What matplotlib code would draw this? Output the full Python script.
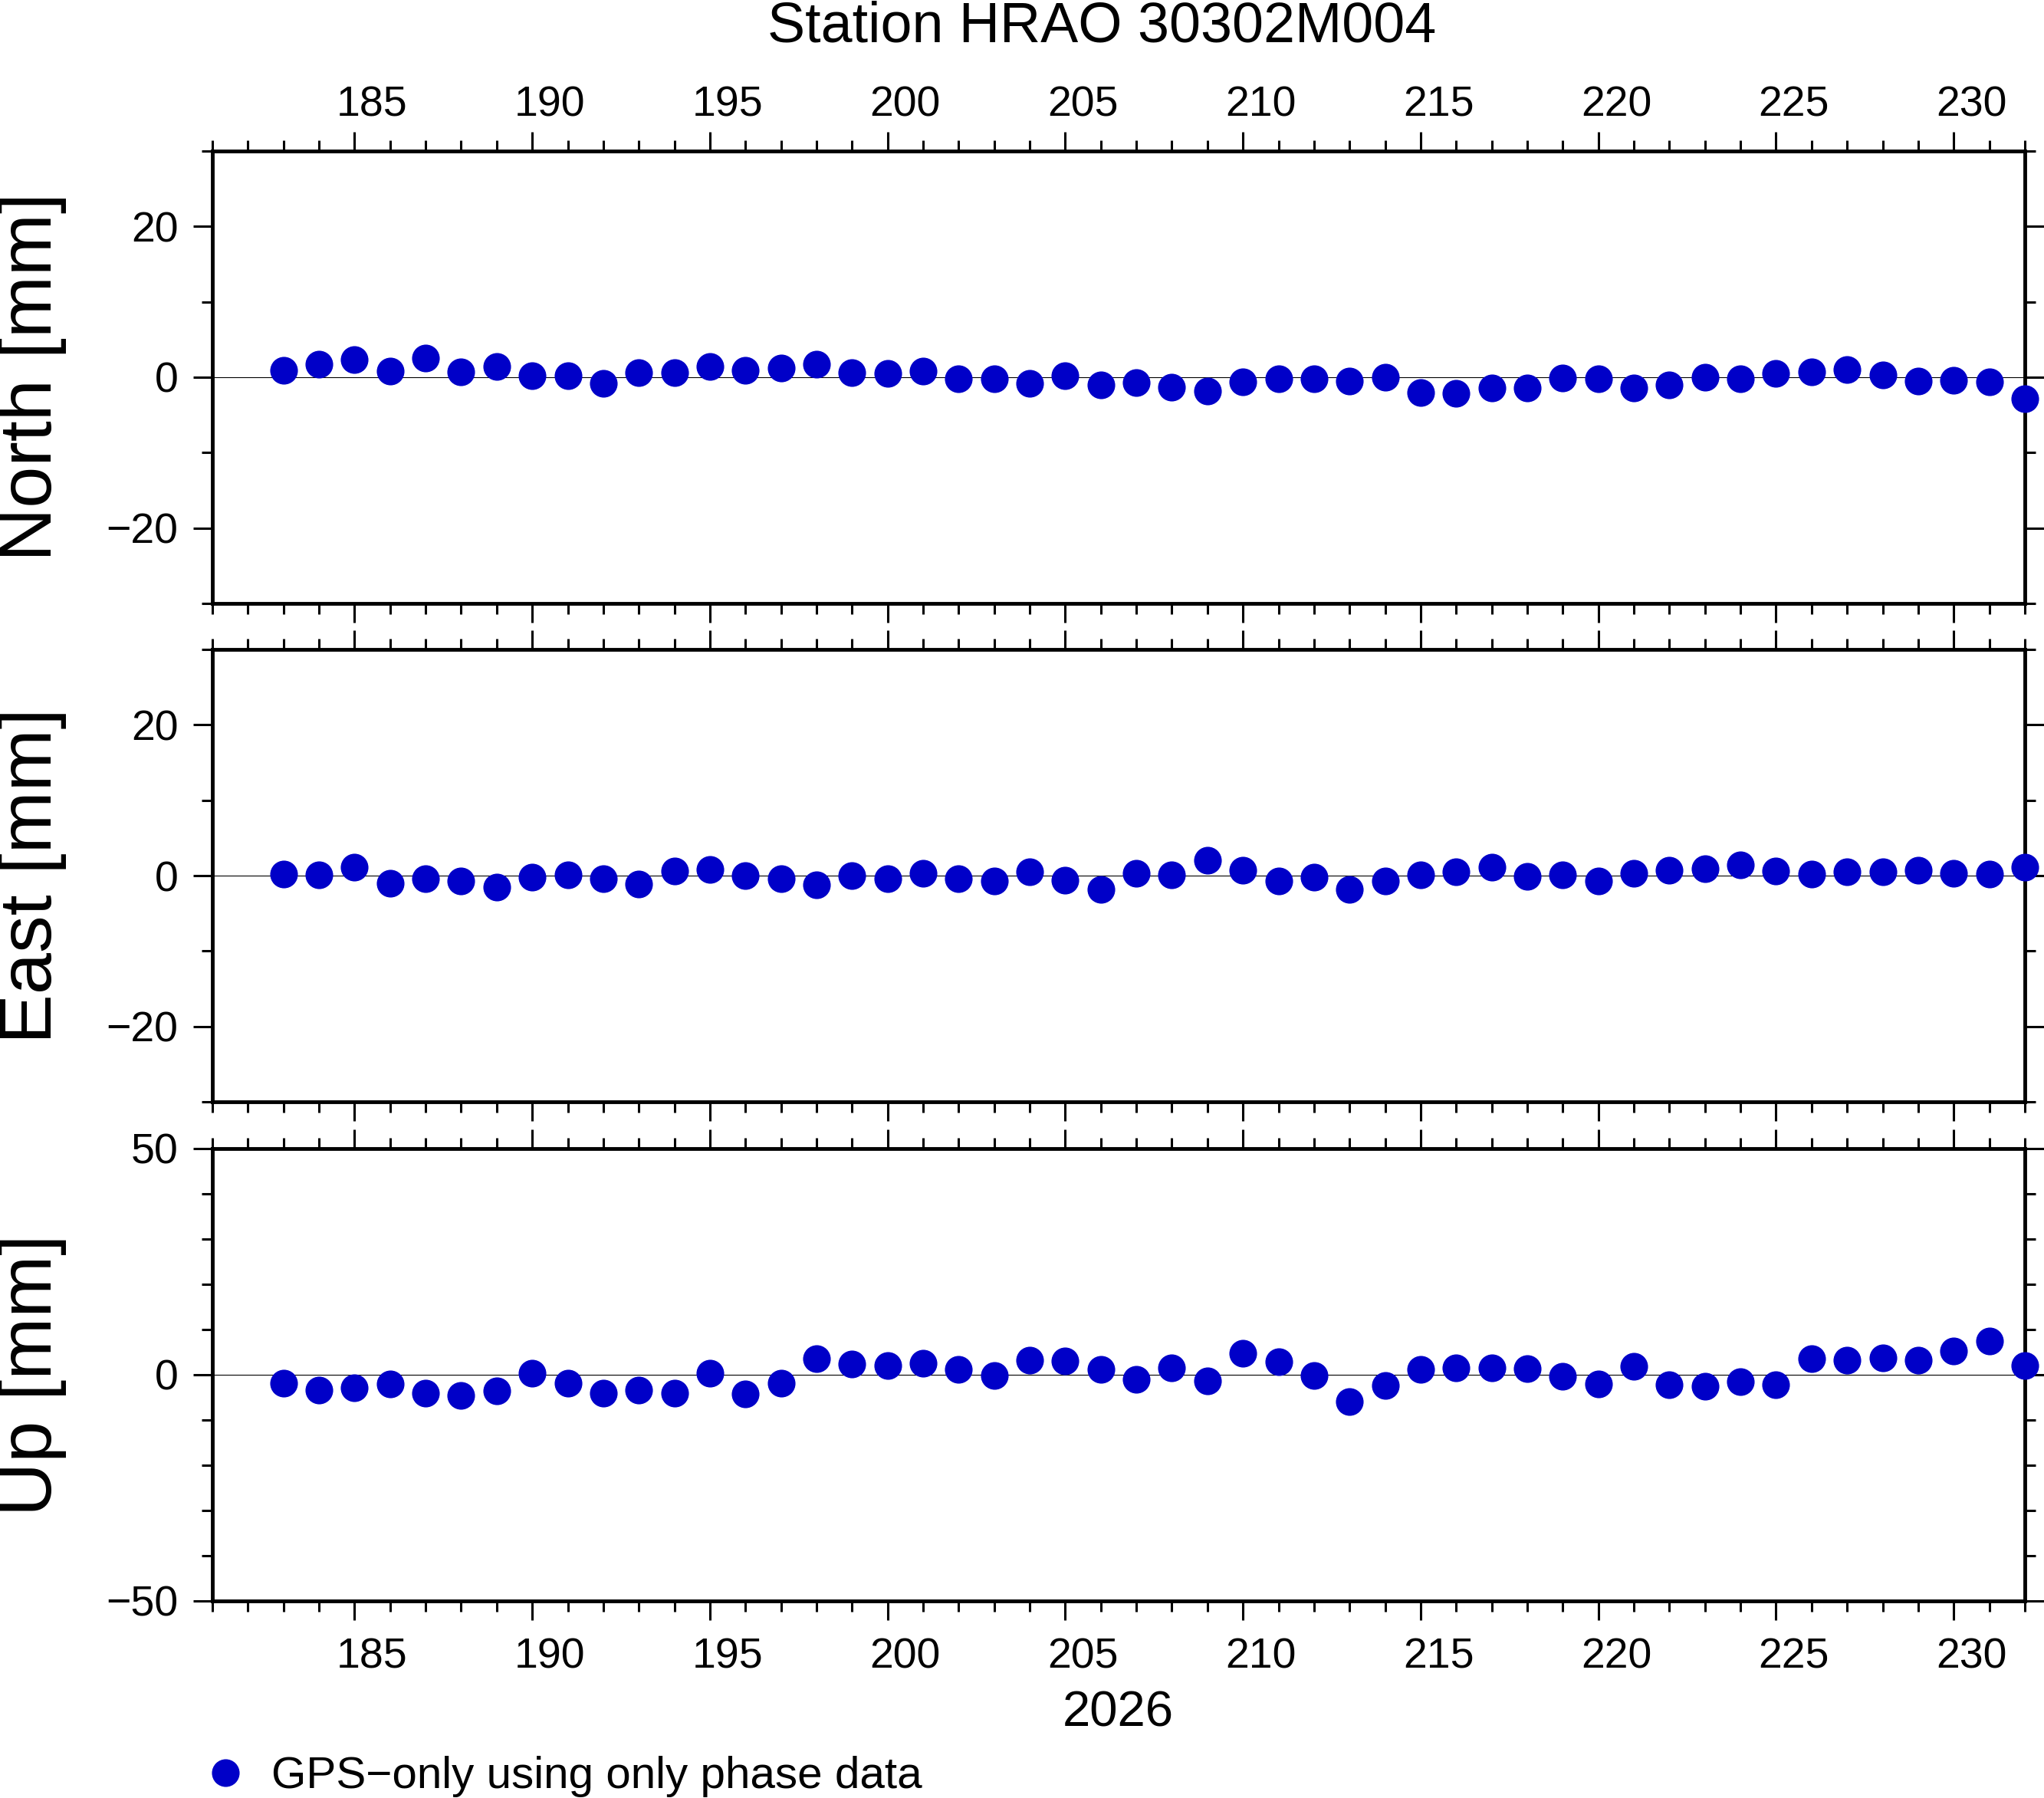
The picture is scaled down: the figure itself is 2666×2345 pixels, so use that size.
import numpy as np
import matplotlib.pyplot as plt
from matplotlib.ticker import MultipleLocator
from matplotlib.transforms import ScaledTranslation

plt.rcParams['font.family'] = ['Liberation Sans', 'DejaVu Sans']

# day of year 2026
days = list(range(183, 233))

north = [0.9, 1.7, 2.3, 0.8, 2.5, 0.7, 1.4, 0.2, 0.2, -0.8, 0.6, 0.6, 1.4, 0.9, 1.2, 1.7,
         0.6, 0.5, 0.8, -0.2, -0.2, -0.8, 0.2, -1.0, -0.7, -1.3, -1.8, -0.6, -0.2, -0.2,
         -0.5, 0.0, -2.0, -2.1, -1.4, -1.4, -0.1, -0.2, -1.4, -1.0, 0.0, -0.2, 0.5, 0.7,
         1.0, 0.3, -0.5, -0.4, -0.6, -2.8]
east = [0.2, 0.1, 1.1, -1.0, -0.4, -0.7, -1.5, -0.2, 0.1, -0.4, -1.1, 0.6, 0.8, 0.0,
        -0.4, -1.2, 0.0, -0.4, 0.3, -0.4, -0.7, 0.5, -0.6, -1.8, 0.3, 0.1, 2.0, 0.7,
        -0.7, -0.2, -1.8, -0.7, 0.1, 0.5, 1.1, -0.1, 0.1, -0.7, 0.3, 0.7, 0.9, 1.4,
        0.6, 0.2, 0.5, 0.5, 0.7, 0.3, 0.2, 1.1]
up = [-1.9, -3.4, -2.8, -2.1, -4.1, -4.6, -3.6, 0.3, -1.9, -4.1, -3.4, -4.1, 0.4, -4.3,
      -1.8, 3.5, 2.3, 2.0, 2.6, 1.1, -0.1, 3.2, 3.0, 1.1, -1.1, 1.6, -1.4, 4.8, 2.8,
      -0.1, -6.0, -2.4, 1.1, 1.5, 1.6, 1.3, -0.4, -2.1, 1.8, -2.2, -2.6, -1.6, -2.2,
      3.5, 3.2, 3.8, 3.2, 5.3, 7.4, 2.0]

components = ["North [mm]", "East [mm]", "Up [mm]"]
series = [north, east, up]
ylims = [(-30, 30), (-30, 30), (-50, 50)]
ymajor = [20, 20, 50]

W, H = 2666, 2345
fig = plt.figure(figsize=(W / 100, H / 100), dpi=100)

left, width = 0.1039, 0.8867
bottoms = [0.6644, 0.3872, 0.1096]
height = 0.2516
xmin, xmax = 181, 232
blue = '#0000c8'

axes = []
for i in range(3):
    ax = fig.add_axes([left, bottoms[i], width, height])
    axes.append(ax)
    ax.axhline(0, color='black', lw=0.8, zorder=1)
    line, = ax.plot(days, series[i], 'o', color=blue, markersize=26, markeredgewidth=0,
                    clip_on=False, zorder=3, label="GPS\u2212only using only phase data")
    ax.set_xlim(xmin, xmax)
    ax.set_ylim(*ylims[i])
    ax.xaxis.set_major_locator(MultipleLocator(5))
    ax.xaxis.set_minor_locator(MultipleLocator(1))
    ax.yaxis.set_major_locator(MultipleLocator(ymajor[i]))
    ax.yaxis.set_minor_locator(MultipleLocator(10))
    for s in ax.spines.values():
        s.set_linewidth(3.5)
    ax.tick_params(which='both', direction='out', top=True, bottom=True, left=True, right=True,
                   width=2.2, labelsize=40, labelbottom=(i == 2), labeltop=(i == 0))
    ax.tick_params(which='major', length=18)
    ax.tick_params(which='minor', length=10)
    ax.tick_params(axis='x', which='major', pad=(6 if i == 0 else 16))
    ax.tick_params(axis='y', which='major', pad=14)
    fig.text(0.0158, bottoms[i] + height / 2, components[i], rotation=90,
             ha='center', va='center', fontsize=70)

# day labels sit in the middle of the day interval
dx = 0.5 * width * W / 100 / (xmax - xmin)
offset = ScaledTranslation(dx, 0, fig.dpi_scale_trans)
for ax in (axes[0], axes[2]):
    for lab in ax.get_xticklabels():
        lab.set_transform(lab.get_transform() + offset)

fig.text(0.539, 0.985, "Station HRAO 30302M004", ha='center', va='center', fontsize=53)
fig.text(0.547, 0.0473, "2026", ha='center', va='center', fontsize=47)

fig.legend(handles=[line], loc='center left', bbox_to_anchor=(0.1037, 0.0119),
           frameon=False, fontsize=42, handlelength=0.6, handletextpad=0.73,
           borderpad=0, borderaxespad=0, numpoints=1)

fig.savefig("out.png", dpi=100)
